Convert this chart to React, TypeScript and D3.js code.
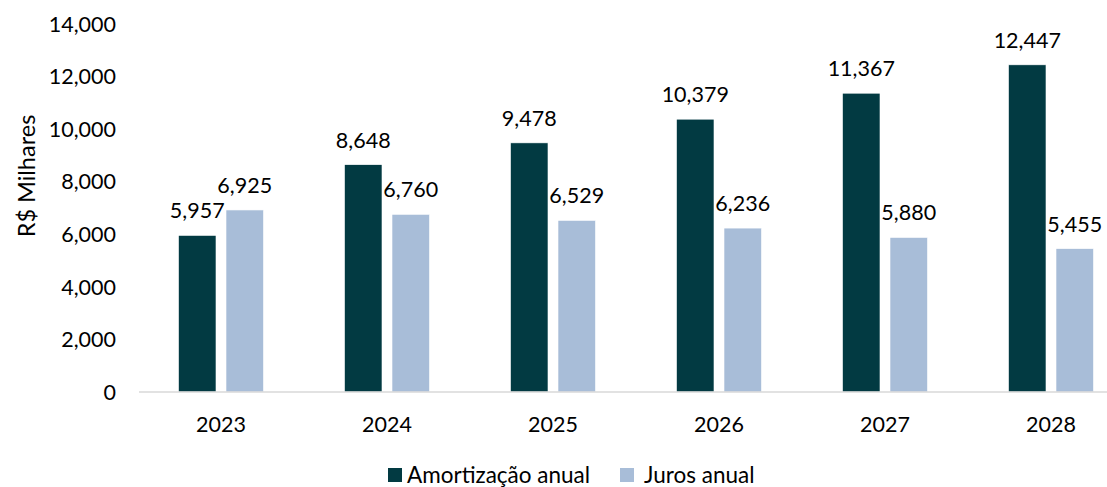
import React from "react";
import * as d3 from "d3";

const categories = ["2023", "2024", "2025", "2026", "2027", "2028"];
const seriesNames = ["Amortização anual", "Juros anual"];
const amortizacao = [5957, 8648, 9478, 10379, 11367, 12447];
const juros = [6925, 6760, 6529, 6236, 5880, 5455];
const yTicks = [0, 2000, 4000, 6000, 8000, 10000, 12000, 14000];
const colors = ["#023a42", "#a8bdd8"];

const W = 1107;
const H = 487;
const FONT = "Lato, 'Open Sans', sans-serif";

export default function App() {
  const y = d3.scaleLinear().domain([0, 14000]).range([392, 24]);
  const x0 = d3.scaleBand().domain(categories).range([138, 1134]).padding(0);
  const x1 = d3
    .scaleBand()
    .domain(seriesNames)
    .range([-42.5, 42.5])
    .paddingInner(0.2105)
    .paddingOuter(0);
  const fmt = d3.format(",");
  const data = [amortizacao, juros];

  return (
    <svg
      width={W}
      height={H}
      style={{ position: "absolute", left: 0, top: 0, background: "#fff" }}
      fontFamily={FONT}
    >
      {/* y tick labels */}
      {yTicks.map((t) => (
        <text
          key={t}
          x={116}
          y={y(t)}
          dy="0.36em"
          textAnchor="end"
          fontSize={21.5}
          fill="#000"
        >
          {fmt(t)}
        </text>
      ))}
      {/* y axis title */}
      <text
        transform={`translate(35,176) rotate(-90)`}
        textAnchor="middle"
        fontSize={23.5}
        fill="#000"
      >
        R$ Milhares
      </text>
      {/* bars */}
      {categories.map((c, i) => {
        const cx = (x0(c) as number) + x0.bandwidth() / 2;
        return (
          <g key={c}>
            {seriesNames.map((s, k) => {
              const v = data[k][i];
              const bx = cx + (x1(s) as number);
              const bw = x1.bandwidth();
              return (
                <g key={s}>
                  <rect
                    x={bx}
                    y={y(v)}
                    width={bw}
                    height={y(0) - y(v)}
                    fill={colors[k]}
                    stroke="#ffffff"
                    strokeWidth={0.6}
                  />
                  <text
                    x={bx + bw / 2}
                    y={y(v) - 17}
                    textAnchor="middle"
                    fontSize={21.5}
                    fill="#000"
                  >
                    {fmt(v)}
                  </text>
                </g>
              );
            })}
            <text
              x={cx}
              y={432}
              textAnchor="middle"
              fontSize={21.5}
              fill="#000"
            >
              {c}
            </text>
          </g>
        );
      })}
      {/* axis line */}
      <line x1={139} x2={W} y1={392} y2={392} stroke="#d9d9d9" strokeWidth={1.5} />
      {/* legend */}
      <g>
        <rect x={388} y={468} width={14} height={14} fill={colors[0]} />
        <text x={407} y={483} fontSize={22.5} fill="#000">
          {seriesNames[0]}
        </text>
        <rect x={620} y={468} width={14} height={14} fill={colors[1]} />
        <text x={644} y={483} fontSize={22.5} fill="#000">
          {seriesNames[1]}
        </text>
      </g>
    </svg>
  );
}
